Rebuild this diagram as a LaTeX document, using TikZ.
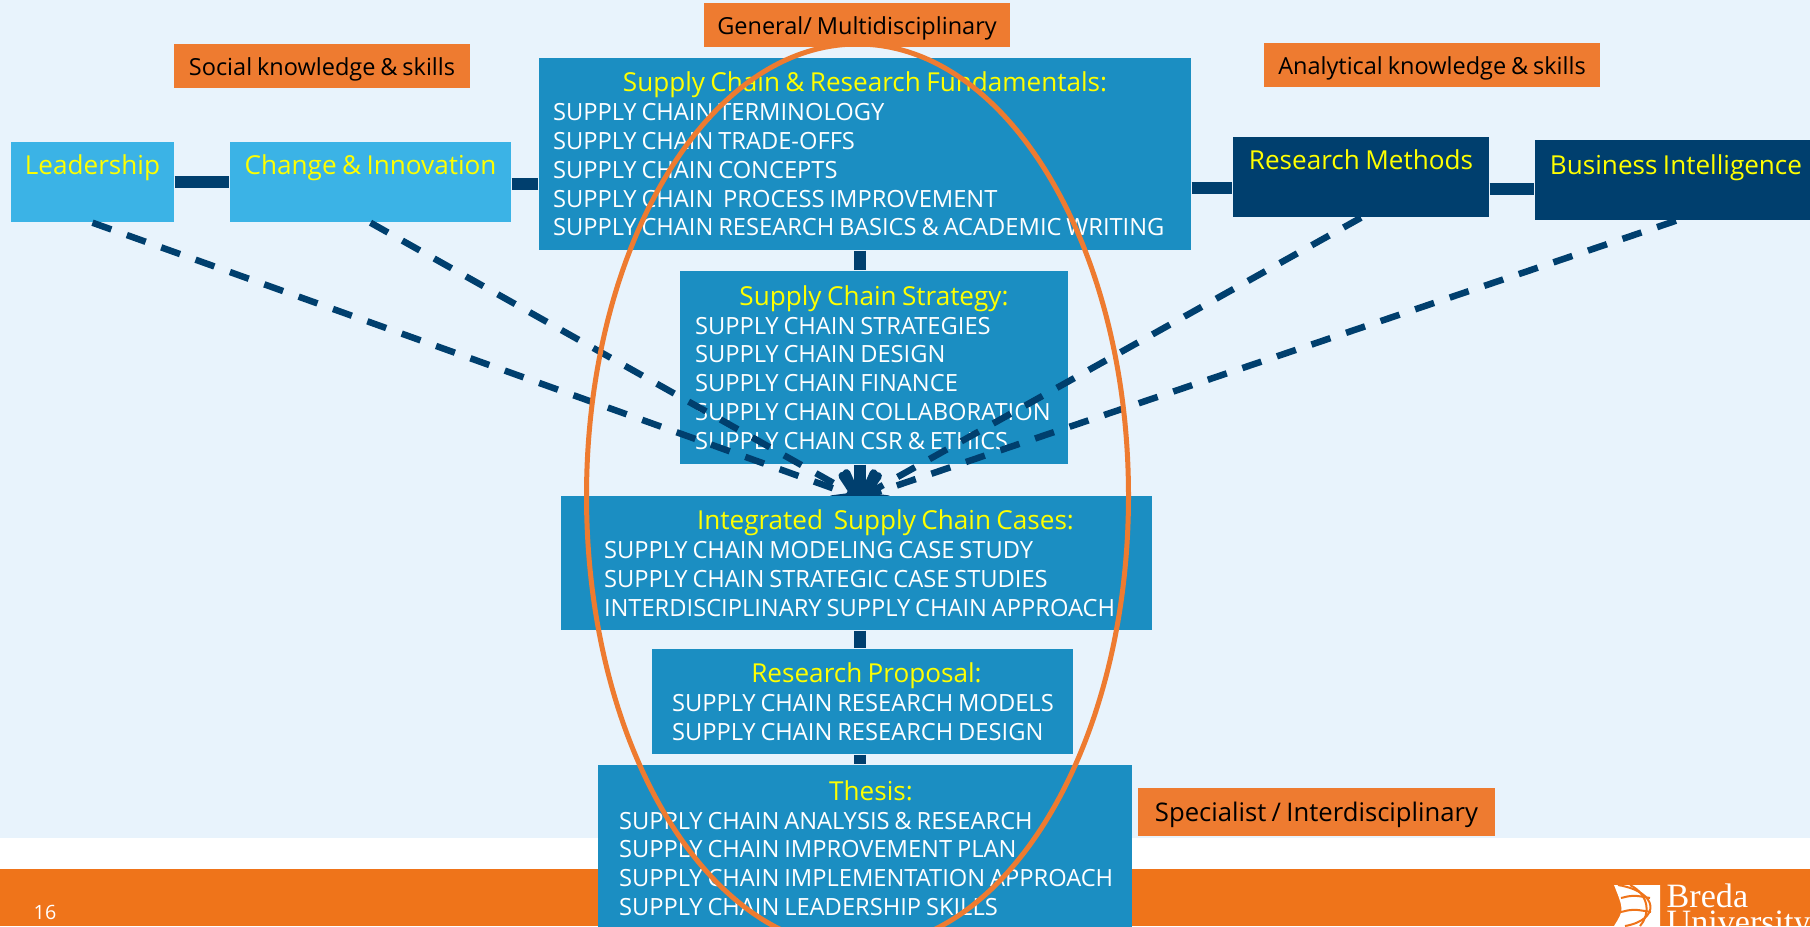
\documentclass[tikz,border=0pt]{standalone}
\usepackage{fontspec}
\setmainfont[WordSpace=0.8]{Open Sans}
\newfontfamily\logofont{Liberation Serif}
\usepackage{xcolor}
\usetikzlibrary{arrows.meta, shapes.geometric}
\definecolor{paleback}{HTML}{E8F3FC}
\definecolor{barorange}{HTML}{EF741A}
\definecolor{tagorange}{HTML}{EE7B30}
\definecolor{midblue}{HTML}{1B8EC2}
\definecolor{lightblue}{HTML}{3BB3E6}
\definecolor{darkblue}{HTML}{003F6E}
\definecolor{headyellow}{HTML}{FFFF00}
\newcommand{\head}[2][0cm]{\makebox[\linewidth]{\hspace{#1}\fontsize{7.43}{8.2}\selectfont\spaceskip=.206em\relax\textcolor{headyellow}{#2}}}
\newcommand{\rw}{\hspace*{\rowgap}\spaceskip=.206em\relax}
\tikzset{
	unit/.style={
		fill=midblue,
		text=white,
		inner xsep=0pt,
		inner ysep=0pt,
		align=left,
		font=\fontsize{6.74}{8.2}\selectfont
	},
	rowindent/.style={execute at begin node={\def\rowgap{#1}}},
	skill/.style={
		fill=#1,
		text=headyellow,
		inner sep=0pt,
		text height=.22cm,
		text depth=.38cm,
		font=\fontsize{7.43}{8.2}\selectfont
	},
	tag/.style={
		fill=tagorange,
		text=black,
		inner sep=0pt,
		text height=.22cm,
		text depth=.03cm,
		font=\fontsize{6.69}{8}\selectfont
	},
	link/.style={draw=darkblue, line width=.12cm},
	influence/.style={
		draw=darkblue,
		line width=.065cm,
		dash pattern=on .20cm off .165cm,
		-{Straight Barb[length=.2cm,width=.3cm,line width=.08cm,round]}
	},
	logotext/.style={text=white, inner sep=0pt, anchor=base west, font=\logofont\fontsize{9.7}{10}\selectfont}
}

\begin{document}
\begin{tikzpicture}
	\useasboundingbox (0,0) rectangle (18.10,-9.26);
	\clip (0,0) rectangle (18.10,-9.26);
	\fill[paleback] (0,0) rectangle (18.10,-8.38);
	\fill[white] (0,-8.38) rectangle (18.10,-8.69);
	\fill[barorange] (0,-8.69) rectangle (18.10,-9.26);

	\fill[white] (16.14,-8.85) -- (16.60,-8.85) -- (16.60,-9.26) -- (16.14,-9.26) .. controls (16.24,-9.10) .. (16.14,-8.85);
	\draw[barorange, line width=.02cm] (16.18,-8.85) .. controls (16.60,-8.92) and (16.60,-9.20) .. (16.25,-9.26);
	\draw[barorange, line width=.02cm] (16.30,-8.85) .. controls (16.50,-8.95) and (16.50,-9.15) .. (16.40,-9.26);
	\draw[barorange, line width=.02cm] (16.21,-8.98) .. controls (16.33,-8.95) .. (16.50,-8.98);
	\draw[barorange, line width=.02cm] (16.21,-9.12) .. controls (16.33,-9.09) .. (16.51,-9.12);
	\node[logotext] (breda) at (16.66,-9.07) {Breda};
	\node[logotext] (university) at (16.66,-9.33) {University};
	\node[text=white, inner sep=0pt, font=\fontsize{5.6}{7}\selectfont] (pagenum) at (.45,-9.12) {16};

	\coordinate (spine) at (8.60,0);
	\coordinate (casesdoor) at (8.60,-4.98);
	\node[unit, rowindent=.14cm, text width=6.52cm, minimum height=1.92cm] (top) at (8.65,-1.54) {\head{Supply Chain \& Research Fundamentals:}\\
		\rw SUPPLY CHAIN TERMINOLOGY\\
		\rw SUPPLY CHAIN TRADE-OFFS\\
		\rw SUPPLY CHAIN CONCEPTS\\
		\rw SUPPLY CHAIN\ \ PROCESS IMPROVEMENT\\
		\rw SUPPLY CHAIN RESEARCH BASICS \& ACADEMIC WRITING};
	\node[unit, rowindent=.15cm, text width=3.88cm, minimum height=1.93cm] (strategy) at (8.74,-3.675) {\head{Supply Chain Strategy:}\\
		\rw SUPPLY CHAIN STRATEGIES\\
		\rw SUPPLY CHAIN DESIGN\\
		\rw SUPPLY CHAIN FINANCE\\
		\rw SUPPLY CHAIN COLLABORATION\\
		\rw SUPPLY CHAIN CSR \& ETHICS};
	\node[unit, rowindent=.20cm, text width=4.21cm, minimum height=1.05cm] (proposal) at (8.625,-7.015) {\head[.08cm]{Research Proposal:}\\
		\rw SUPPLY CHAIN RESEARCH MODELS\\
		\rw SUPPLY CHAIN RESEARCH DESIGN};
	\node[unit, rowindent=.21cm, text width=5.34cm, minimum height=1.66cm] (thesis) at (8.65,-8.48) {\head[.12cm]{Thesis:}\\
		\rw SUPPLY CHAIN ANALYSIS \& RESEARCH\\
		\rw SUPPLY CHAIN IMPROVEMENT PLAN\\
		\rw SUPPLY CHAIN IMPLEMENTATION APPROACH\\
		\rw SUPPLY CHAIN LEADERSHIP SKILLS};

	\node[skill=lightblue, minimum width=1.63cm, minimum height=.8cm] (lead) at (.925,-1.82) {Leadership};
	\node[skill=lightblue, minimum width=2.81cm, minimum height=.8cm] (change) at (3.705,-1.82) {Change \& Innovation};
	\node[skill=darkblue, minimum width=2.56cm, minimum height=.8cm] (methods) at (13.61,-1.77) {Research Methods};
	\node[skill=darkblue, text depth=.34cm, minimum width=2.82cm, minimum height=.8cm] (bi) at (16.76,-1.80) {Business Intelligence};

	\node[tag, minimum width=3.06cm, minimum height=.44cm] (general) at (8.57,-.25) {General/ Multidisciplinary};
	\node[tag, minimum width=2.96cm, minimum height=.44cm] (social) at (3.22,-.66) {Social knowledge \& skills};
	\node[tag, minimum width=3.36cm, minimum height=.44cm] (analytical) at (14.32,-.65) {Analytical knowledge \& skills};
	\node[tag, font=\fontsize{7.3}{8}\selectfont, minimum width=3.57cm, minimum height=.48cm] (specialist) at (13.165,-8.12) {Specialist / Interdisciplinary};

	\draw
	(lead.south) edge[influence] (casesdoor)
	(change.south) edge[influence] (casesdoor)
	(methods.south) edge[influence] (casesdoor)
	(bi.south) edge[influence] (casesdoor);

	\node[unit, rowindent=.43cm, text width=5.91cm, minimum height=1.34cm] (cases) at (8.565,-5.63) {\head[.58cm]{Integrated\ \ Supply Chain Cases:}\\
		\rw SUPPLY CHAIN MODELING CASE STUDY\\
		\rw SUPPLY CHAIN STRATEGIC CASE STUDIES\\
		\rw INTERDISCIPLINARY SUPPLY CHAIN APPROACH};

	\draw
	(lead.east) edge[link] (change.west)
	([yshift=-.02cm]change.east) edge[link] ([yshift=-.02cm]change.east -| top.west)
	([yshift=-.11cm]top.east |- methods.east) edge[link] ([yshift=-.11cm]methods.west)
	([yshift=-.12cm]methods.east) edge[link] ([yshift=-.12cm]methods.east -| bi.west)
	(top.south -| spine) edge[link] (strategy.north -| spine)
	(strategy.south -| spine) edge[link] (cases.north -| spine)
	(cases.south -| spine) edge[link] (proposal.north -| spine)
	(proposal.south -| spine) edge[link] (thesis.north -| spine);

	\node[draw=tagorange, line width=.05cm, ellipse, inner sep=0pt, minimum width=5.42cm, minimum height=9.04cm] (ring) at (8.575,-4.96) {};
\end{tikzpicture}
\end{document}
